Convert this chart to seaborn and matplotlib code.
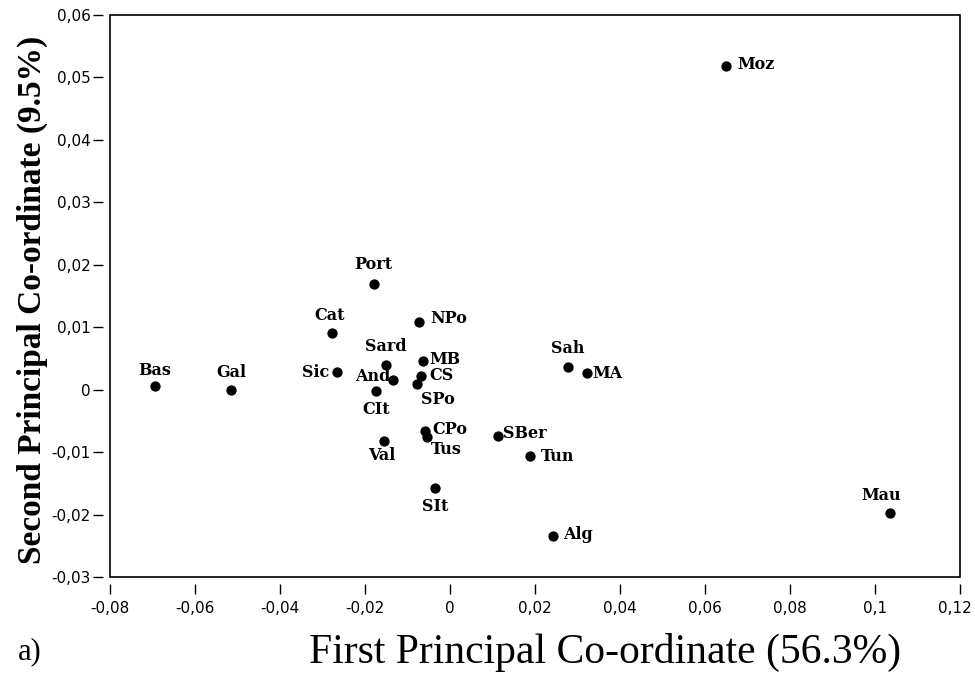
import matplotlib
matplotlib.use("Agg")
import matplotlib.pyplot as plt
import matplotlib.transforms as mtransforms
from matplotlib.patches import Rectangle
import seaborn as sns
import pandas as pd

# Population coordinates on the first two principal co-ordinates
populations = ["Moz", "Port", "Cat", "NPo", "Sard", "Sic", "And", "CIt", "MB", "CS",
               "SPo", "CPo", "Tus", "Val", "SBer", "SIt", "Bas", "Gal", "Sah", "MA",
               "Tun", "Mau", "Alg"]
pc1 = [0.0649, -0.0180, -0.0277, -0.0072, -0.0151, -0.0267, -0.0133, -0.0173, -0.0064, -0.0069,
       -0.0078, -0.0060, -0.0055, -0.0155, 0.0114, -0.0035, -0.0694, -0.0515, 0.0278, 0.0322,
       0.0188, 0.1035, 0.0243]
pc2 = [0.0518, 0.0169, 0.0090, 0.0109, 0.0040, 0.0028, 0.0016, -0.0002, 0.0046, 0.0022,
       0.0009, -0.0066, -0.0075, -0.0083, -0.0074, -0.0158, 0.0006, -0.0001, 0.0036, 0.0026,
       -0.0107, -0.0198, -0.0234]

x_ticks = [-0.08, -0.06, -0.04, -0.02, 0, 0.02, 0.04, 0.06, 0.08, 0.1, 0.12]
x_tick_labels = ["-0,08", "-0,06", "-0,04", "-0,02", "0", "0,02", "0,04", "0,06", "0,08", "0,1", "0,12"]
y_ticks = [-0.03, -0.02, -0.01, 0, 0.01, 0.02, 0.03, 0.04, 0.05, 0.06]
y_tick_labels = ["-0,03", "-0,02", "-0,01", "0", "0,01", "0,02", "0,03", "0,04", "0,05", "0,06"]

# label placement: (dx, dy) in points and alignment
placement = {
    "Moz": (8, 1, "left", "center"),
    "Port": (0, 8, "center", "bottom"),
    "Cat": (-2, 7, "center", "bottom"),
    "NPo": (8, 2, "left", "center"),
    "Sard": (0, 7, "center", "bottom"),
    "Sic": (-5, 0, "right", "center"),
    "And": (-2, 2, "right", "center"),
    "CIt": (0, -7, "center", "top"),
    "MB": (5, 1, "left", "center"),
    "CS": (6, 0, "left", "center"),
    "SPo": (3, -5, "left", "top"),
    "CPo": (6, 1, "left", "center"),
    "Tus": (3, -3, "left", "top"),
    "Val": (-2, -4, "center", "top"),
    "SBer": (3, 2, "left", "center"),
    "SIt": (0, -7, "center", "top"),
    "Bas": (0, 5, "center", "bottom"),
    "Gal": (0, 7, "center", "bottom"),
    "Sah": (0, 7, "center", "bottom"),
    "MA": (4, 0, "left", "center"),
    "Tun": (8, 0, "left", "center"),
    "Mau": (-6, 7, "center", "bottom"),
    "Alg": (7, 1, "left", "center"),
}

df = pd.DataFrame({"population": populations, "pc1": pc1, "pc2": pc2})

sns.set_theme(style="white")
plt.rcParams["font.family"] = ["DejaVu Sans"]
plt.rcParams["text.color"] = "black"

fig = plt.figure(figsize=(9.75, 6.89), dpi=100)
ax = fig.add_axes([110 / 975, 1 - 577 / 689, 850 / 975, 562 / 689])

sns.scatterplot(data=df, x="pc1", y="pc2", ax=ax, color="black", s=55,
                edgecolor="black", linewidth=0, zorder=3, legend=False)

for name, x, y in zip(populations, pc1, pc2):
    dx, dy, ha, va = placement[name]
    ax.annotate(name, (x, y), xytext=(dx, dy), textcoords="offset points",
                ha=ha, va=va, fontsize=11.5, fontweight="bold",
                family="DejaVu Serif", color="black")

ax.set_xlim(-0.08, 0.12)
ax.set_ylim(-0.03, 0.06)
ax.set_xticks(x_ticks)
ax.set_xticklabels(x_tick_labels)
ax.set_yticks(y_ticks)
ax.set_yticklabels(y_tick_labels)

# ticks sit slightly away from the frame
for side in ["left", "bottom"]:
    ax.spines[side].set_position(("outward", 5))
    ax.spines[side].set_visible(False)
for side in ["top", "right"]:
    ax.spines[side].set_visible(False)
ax.add_patch(Rectangle((0, 0), 1, 1, transform=ax.transAxes, fill=False,
                       edgecolor="black", linewidth=1.2, clip_on=False, zorder=5))

ax.tick_params(axis="both", which="major", direction="out", length=7, width=1,
               color="black", labelsize=11, labelcolor="black", bottom=True, left=True)
ax.tick_params(axis="x", pad=5)
ax.tick_params(axis="y", pad=2)

# keep the last x tick label inside the figure edge
last = ax.get_xticklabels()[-1]
last.set_transform(last.get_transform() +
                   mtransforms.ScaledTranslation(-5 / 100, 0, fig.dpi_scale_trans))

ax.set_xlabel("")
ax.set_ylabel("")

fig.text(32 / 975, 1 - 300 / 689, "Second Principal Co-ordinate (9.5%)", rotation=90,
         ha="center", va="center", fontsize=24, fontweight="bold",
         family="Liberation Serif", color="black")
fig.text(605 / 975, 1 - 652 / 689, "First Principal Co-ordinate (56.3%)",
         ha="center", va="center", fontsize=30, family="Liberation Serif", color="black")
fig.text(30 / 975, 1 - 652 / 689, "a)", ha="center", va="center", fontsize=22,
         family="Liberation Serif", color="black")

fig.savefig("out.png", dpi=100, facecolor="white")
